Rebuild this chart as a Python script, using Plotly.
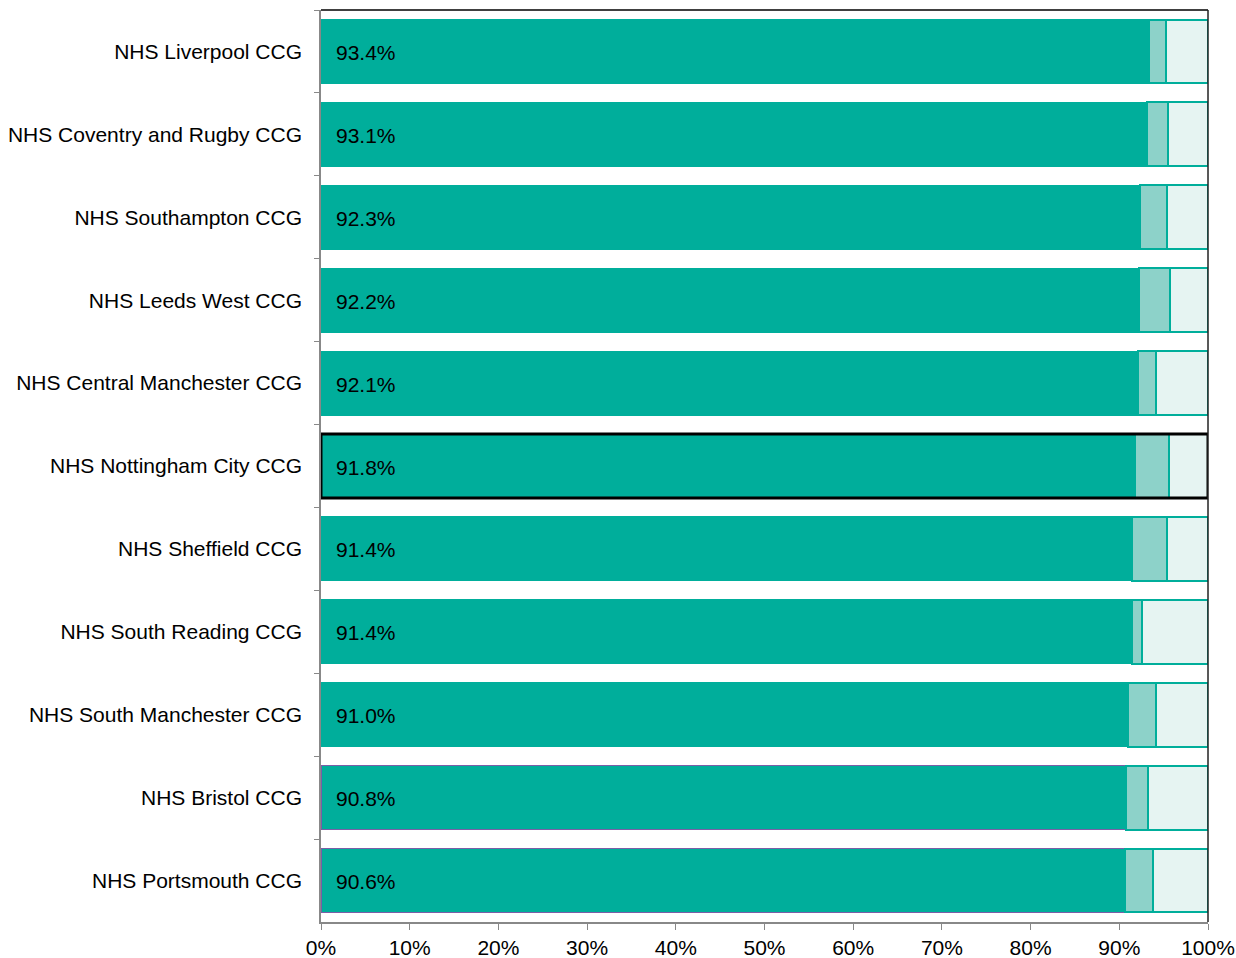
import plotly.graph_objects as go

categories = ["NHS Liverpool CCG", "NHS Coventry and Rugby CCG", "NHS Southampton CCG",
              "NHS Leeds West CCG", "NHS Central Manchester CCG", "NHS Nottingham City CCG",
              "NHS Sheffield CCG", "NHS South Reading CCG", "NHS South Manchester CCG",
              "NHS Bristol CCG", "NHS Portsmouth CCG"]
main_pct = [93.4, 93.1, 92.3, 92.2, 92.1, 91.8, 91.4, 91.4, 91.0, 90.8, 90.6]
second_pct = [1.9, 2.4, 3.1, 3.5, 2.0, 3.8, 4.0, 1.2, 3.1, 2.4, 3.2]
third_pct = [round(100 - a - b, 1) for a, b in zip(main_pct, second_pct)]
highlight = "NHS Nottingham City CCG"
purple_outlined = ["NHS Bristol CCG", "NHS Portsmouth CCG"]
x_ticks = [0, 10, 20, 30, 40, 50, 60, 70, 80, 90, 100]
x_tick_labels = [f"{v}%" for v in x_ticks]

TEAL = "#00AE9B"
FONT = "Liberation Sans, Arial, sans-serif"
FS = 21

main_line = ["#7B5EA7" if c in purple_outlined else TEAL for c in categories]

fig = go.Figure()
fig.add_trace(go.Bar(
    y=categories, x=main_pct, orientation="h",
    marker=dict(color=TEAL, line=dict(color=main_line, width=1)),
    hoverinfo="x+y",
))
fig.add_trace(go.Bar(
    y=categories, x=second_pct, orientation="h",
    marker=dict(color="#8DD2C9", line=dict(color=TEAL, width=2)),
))
fig.add_trace(go.Bar(
    y=categories, x=third_pct, orientation="h",
    marker=dict(color="#E6F4F2", line=dict(color=TEAL, width=2)),
))

for c, v in zip(categories, main_pct):
    fig.add_annotation(x=0, y=c, xref="x", yref="y", text=f"{v:.1f}%",
                       showarrow=False, xanchor="left", xshift=13, yshift=-1,
                       font=dict(size=FS, family=FONT, color="black"))

hi = categories.index(highlight)
half = (1 - 0.23) / 2
fig.add_shape(type="rect", xref="x", yref="y", x0=0, x1=100,
              y0=hi - half, y1=hi + half, line=dict(color="black", width=3),
              fillcolor="rgba(0,0,0,0)")
# top and right frame lines
fig.add_shape(type="line", xref="paper", yref="paper", x0=0, x1=1, y0=1, y1=1,
              line=dict(color="black", width=1.5))
fig.add_shape(type="line", xref="paper", yref="paper", x0=1, x1=1, y0=0, y1=1,
              line=dict(color="#222", width=1.5))

fig.update_layout(
    barmode="stack", bargap=0.23, showlegend=False,
    width=1236, height=958,
    margin=dict(l=321, r=28, t=10, b=36),
    plot_bgcolor="white", paper_bgcolor="white",
    font=dict(family=FONT, size=FS, color="black"),
    xaxis=dict(range=[0, 100], tickvals=x_ticks, ticktext=x_tick_labels, showgrid=False,
               zeroline=False, showline=True, linecolor="#888", linewidth=1.5,
               ticks="outside", ticklen=6, tickcolor="#888", automargin=False,
               tickfont=dict(size=FS, family=FONT, color="black")),
    yaxis=dict(autorange="reversed", showgrid=False, showline=True, linecolor="#888",
               linewidth=1.5, ticks="outside", ticklen=5, tickcolor="#888",
               tickson="boundaries", ticklabelstandoff=13, automargin=False,
               tickfont=dict(size=FS, family=FONT, color="black")),
)
fig.write_html("out.html", config={"displayModeBar": False},
               post_script="document.body.style.margin='0';document.body.style.overflow='hidden';")
